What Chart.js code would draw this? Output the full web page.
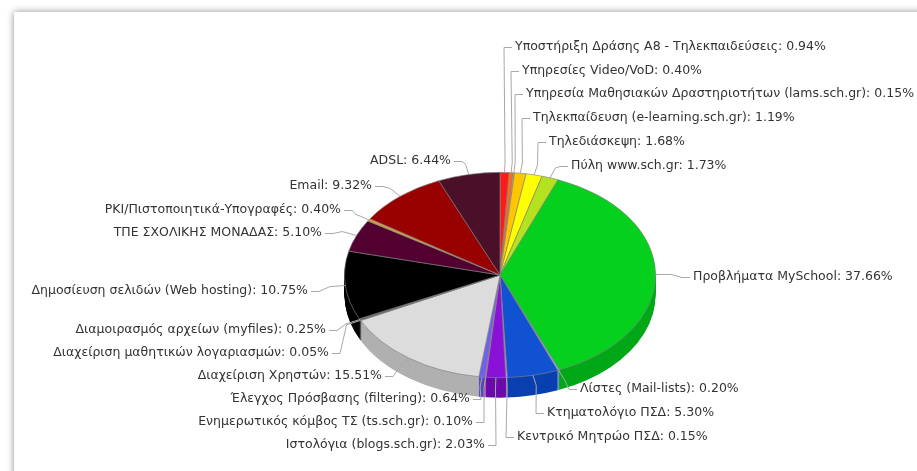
<!DOCTYPE html>
<html>
<head>
<meta charset="utf-8">
<script src="https://cdn.jsdelivr.net/npm/chart.js@4.4.0/dist/chart.umd.min.js"></script>
<style>
html, body { margin: 0; padding: 0; background: #fff; }
</style>
</head>
<body>
<canvas id="myChart" width="917" height="471"></canvas>
<script>
// categories, clockwise from 12 o'clock
var categories = [
    'Υποστήριξη Δράσης Α8 - Τηλεκπαιδεύσεις',
    'Υπηρεσίες Video/VoD',
    'Υπηρεσία Μαθησιακών Δραστηριοτήτων (lams.sch.gr)',
    'Τηλεκπαίδευση (e-learning.sch.gr)',
    'Τηλεδιάσκεψη',
    'Πύλη www.sch.gr',
    'Προβλήματα MySchool',
    'Λίστες (Mail-lists)',
    'Κτηματολόγιο ΠΣΔ',
    'Κεντρικό Μητρώο ΠΣΔ',
    'Ιστολόγια (blogs.sch.gr)',
    'Ενημερωτικός κόμβος ΤΣ (ts.sch.gr)',
    'Έλεγχος Πρόσβασης (filtering)',
    'Διαχείριση Χρηστών',
    'Διαχείριση μαθητικών λογαριασμών',
    'Διαμοιρασμός αρχείων (myfiles)',
    'Δημοσίευση σελιδών (Web hosting)',
    'ΤΠΕ ΣΧΟΛΙΚΗΣ ΜΟΝΑΔΑΣ',
    'PKI/Πιστοποιητικά-Υπογραφές',
    'Email',
    'ADSL'
];
var percents = [0.94, 0.40, 0.15, 1.19, 1.68, 1.73, 37.66, 0.20, 5.30, 0.15,
                2.03, 0.10, 0.64, 15.51, 0.05, 0.25, 10.75, 5.10, 0.40, 9.32, 6.44];

var topColors = ['#ff1a1a', '#ff6a1a', '#ff9e40', '#ffc600', '#ffff00', '#b4e21e', '#06d01e',
                 '#8ab4e8', '#1052d2', '#c88cff', '#8a12d8', '#ff70d0', '#7060f0', '#dcdcdc',
                 '#909090', '#606060', '#000000', '#520030', '#d4a040', '#990000', '#4a1028'];
var sideColors = ['#cc1010', '#cc5010', '#cc7a30', '#cc9e00', '#cccc00', '#8eb416', '#00a818',
                  '#6a90c0', '#0a40b0', '#9c6cd0', '#6c0aae', '#cc58a8', '#5648c4', '#b0b0b0',
                  '#707070', '#484848', '#000000', '#3e0024', '#a88030', '#760000', '#380a1e'];

// label layout: side (1 = text starts at x, -1 = text ends at x), x, y
var labelSide = [1, 1, 1, 1, 1, 1, 1, 1, 1, 1, -1, -1, -1, -1, -1, -1, -1, -1, -1, -1, -1];
var labelX = [515, 522, 526, 533, 549, 571, 693, 580, 547, 517,
              485, 473, 470, 382, 329, 326, 308, 322, 341, 372, 451];
var labelY = [47, 71, 94, 118, 142, 166, 277, 389, 413, 437,
              445, 422, 399, 376, 353, 330, 291, 233, 210, 186, 161];

var SQUASH = 0.66;
var DEPTH = 20;

function squash(ctx, cx, cy) {
    ctx.translate(cx, cy);
    ctx.scale(1, SQUASH);
    ctx.translate(-cx, -cy);
}

var framePlugin = {
    id: 'frame',
    beforeDraw: function (chart) {
        var ctx = chart.ctx;
        ctx.save();
        ctx.fillStyle = '#fff';
        ctx.fillRect(0, 0, chart.width, chart.height);
        ctx.shadowColor = 'rgba(0,0,0,0.45)';
        ctx.shadowBlur = 7;
        ctx.fillRect(14, 12, chart.width + 40, chart.height + 40);
        ctx.restore();
    }
};

var pie3dPlugin = {
    id: 'pie3d',
    beforeDatasetsDraw: function (chart) {
        var ctx = chart.ctx;
        var arcs = chart.getDatasetMeta(0).data;
        var cx = arcs[0].x, cy = arcs[0].y;
        for (var d = DEPTH; d >= 1; d--) {
            arcs.forEach(function (a, i) {
                ctx.save();
                ctx.translate(0, d);
                squash(ctx, cx, cy);
                ctx.beginPath();
                ctx.moveTo(a.x, a.y);
                ctx.arc(a.x, a.y, a.outerRadius, a.startAngle, a.endAngle);
                ctx.closePath();
                ctx.fillStyle = sideColors[i];
                ctx.fill();
                ctx.restore();
            });
        }
        ctx.save();
        squash(ctx, cx, cy);
    },
    afterDatasetsDraw: function (chart) {
        var ctx = chart.ctx;
        ctx.restore();
        var arcs = chart.getDatasetMeta(0).data;
        ctx.save();
        ctx.font = '12.5px "DejaVu Sans"';
        ctx.textBaseline = 'middle';
        ctx.lineWidth = 1;
        ctx.strokeStyle = '#a8a8a8';
        ctx.fillStyle = '#333333';
        arcs.forEach(function (a, i) {
            var m = (a.startAngle + a.endAngle) / 2;
            var r = a.outerRadius;
            var px = a.x + r * Math.cos(m), py = a.y + r * SQUASH * Math.sin(m);
            var ex = a.x + 1.1 * r * Math.cos(m), ey = a.y + 1.1 * r * SQUASH * Math.sin(m);
            var s = labelSide[i];
            var ly = Math.round(labelY[i]) + 0.5;
            var tx = labelX[i] - s * 3;
            var ax = tx - s * 8;
            ctx.beginPath();
            ctx.moveTo(px, py);
            ctx.lineTo(ex, ey);
            ctx.lineTo(ax, ly);
            ctx.lineTo(tx, ly);
            ctx.stroke();
            ctx.textAlign = s > 0 ? 'left' : 'right';
            ctx.fillText(categories[i] + ': ' + percents[i].toFixed(2) + '%', labelX[i], labelY[i]);
        });
        ctx.restore();
    }
};

var ctx = document.getElementById('myChart').getContext('2d');
var myChart = new Chart(ctx, {
    type: 'pie',
    data: {
        labels: categories,
        datasets: [{
            data: percents,
            backgroundColor: topColors,
            borderColor: 'rgba(130,130,130,0.8)',
            borderWidth: 1,
            hoverOffset: 0,
            clip: false
        }]
    },
    options: {
        responsive: false,
        animation: false,
        events: [],
        layout: { padding: { left: 344, right: 261, top: 119, bottom: 40 } },
        plugins: {
            legend: { display: false },
            tooltip: { enabled: false }
        }
    },
    plugins: [framePlugin, pie3dPlugin]
});
</script>
</body>
</html>
